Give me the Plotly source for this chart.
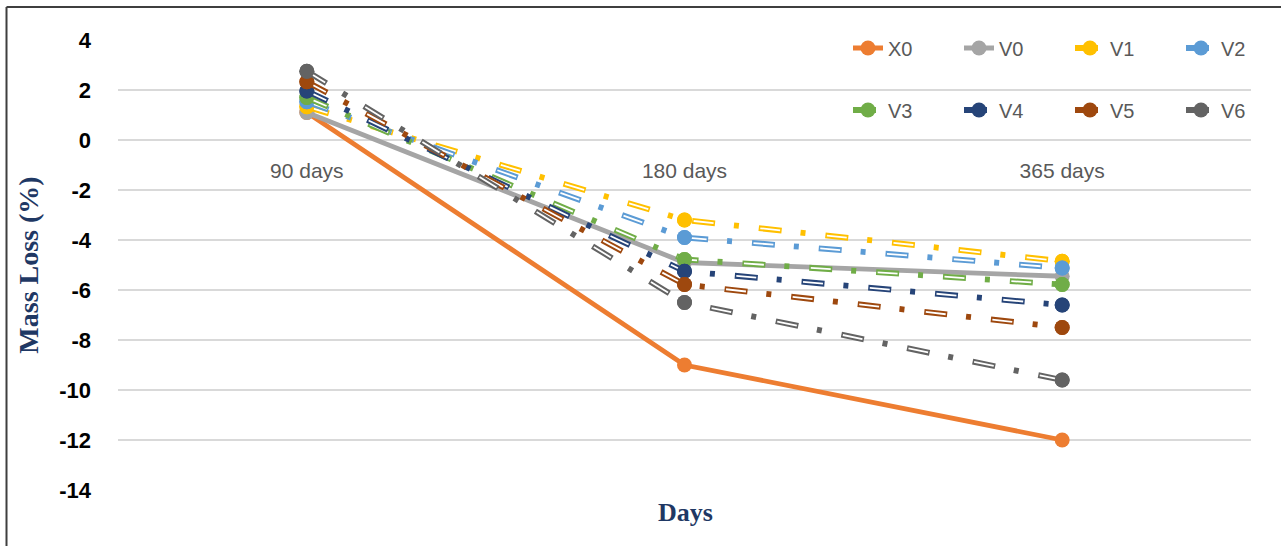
import plotly.graph_objects as go

# Sampling ages and mass-loss readings (%)
days = ["90 days", "180 days", "365 days"]
x0 = [1.1, -9.0, -12.0]
v0 = [1.1, -4.9, -5.45]
v1 = [1.33, -3.2, -4.85]
v2 = [1.53, -3.9, -5.12]
v3 = [1.7, -4.78, -5.78]
v4 = [1.96, -5.25, -6.6]
v5 = [2.33, -5.78, -7.5]
v6 = [2.75, -6.5, -9.6]

# y-axis ticks written with a plain hyphen minus
y_ticks = [4, 2, 0, -2, -4, -6, -8, -10, -12, -14]
y_tick_text = ["4", "2", "0", "-2", "-4", "-6", "-8", "-10", "-12", "-14"]

solid_series = [
    ("X0", x0, "#ED7D31"),
    ("V0", v0, "#A5A5A5"),
]
double_series = [
    ("V1", v1, "#FFC000", "legend"),
    ("V2", v2, "#5B9BD5", "legend"),
    ("V3", v3, "#70AD47", "legend2"),
    ("V4", v4, "#264478", "legend2"),
    ("V5", v5, "#9E480E", "legend2"),
    ("V6", v6, "#636363", "legend2"),
]

# long dash - dot pattern; the white core only runs inside the long dash
OUTER_DASH = "23px,19px,5px,20px"
INNER_DASH = "0px,1.5px,20px,45.5px"
MARKER_SIZE = 15

fig = go.Figure()

for name, vals, color in solid_series:
    fig.add_trace(go.Scatter(
        x=days, y=vals, name=name, mode="lines+markers",
        line=dict(color=color, width=4.8),
        marker=dict(color=color, size=MARKER_SIZE),
        legend="legend",
    ))

for name, vals, color, leg in double_series:
    # coloured outer stroke (also the legend entry)
    fig.add_trace(go.Scatter(
        x=days, y=vals, name=name, mode="lines+markers",
        line=dict(color=color, width=5.8, dash=OUTER_DASH),
        marker=dict(color=color, size=MARKER_SIZE),
        legend=leg,
    ))
    # white core making the compound (double) line
    fig.add_trace(go.Scatter(
        x=days, y=vals, mode="lines", showlegend=False, hoverinfo="skip",
        line=dict(color="white", width=1.8, dash=INNER_DASH),
    ))
    # markers redrawn over the white core
    fig.add_trace(go.Scatter(
        x=days, y=vals, mode="markers", showlegend=False, hoverinfo="skip",
        marker=dict(color=color, size=MARKER_SIZE),
    ))

L, R, T, B = 118, 30, 40, 56
W, H = 1281, 546
plot_w = W - L - R
plot_h = H - T - B
y_min, y_max = -14, 4

def px_x(p):
    return (p - L) / plot_w

def px_y(p):
    return (H - B - p) / plot_h

legend_style = dict(
    orientation="h", xanchor="left", yanchor="middle",
    bgcolor="rgba(0,0,0,0)",
    font=dict(family="Liberation Sans, Arial, sans-serif", size=20, color="#595959"),
    entrywidth=66, itemwidth=30, traceorder="normal",
)

fig.update_layout(
    width=W, height=H,
    margin=dict(l=L, r=R, t=T, b=B, autoexpand=False),
    plot_bgcolor="white", paper_bgcolor="white",
    showlegend=True,
    legend=dict(x=px_x(848), y=px_y(48), **legend_style),
    legend2=dict(x=px_x(848), y=px_y(110), **legend_style),
    xaxis=dict(
        type="category", range=[-0.5, 2.5],
        showgrid=False, showline=False, zeroline=False, ticks="",
        anchor="free", position=(0 - y_min) / (y_max - y_min),
        ticklabelstandoff=16,
        tickfont=dict(family="Liberation Sans, Arial, sans-serif", size=21, color="#595959"),
    ),
    yaxis=dict(
        range=[y_min, y_max], tickvals=y_ticks, ticktext=y_tick_text,
        showgrid=True, gridcolor="#D9D9D9", gridwidth=1.5,
        zeroline=False, showline=False, ticks="",
        ticklabelstandoff=26,
        tickfont=dict(family="Liberation Sans, Arial, sans-serif", size=22, color="#000000", weight="bold"),
        title=dict(
            text="<b>Mass Loss (%)</b>", standoff=12,
            font=dict(family="Liberation Serif, Times New Roman, serif", size=28, color="#1F3864"),
        ),
    ),
    annotations=[dict(
        text="<b>Days</b>", xref="paper", yref="paper",
        x=px_x(685), y=px_y(512), xanchor="center", yanchor="middle",
        showarrow=False,
        font=dict(family="Liberation Serif, Times New Roman, serif", size=26, color="#1F3864"),
    )],
    shapes=[
        dict(type="line", xref="paper", yref="paper",
             x0=px_x(6.5), x1=px_x(W + 5), y0=px_y(7), y1=px_y(7),
             line=dict(color="#3F3F3F", width=2)),
        dict(type="line", xref="paper", yref="paper",
             x0=px_x(6.5), x1=px_x(6.5), y0=px_y(7), y1=px_y(H + 5),
             line=dict(color="#3F3F3F", width=2)),
    ],
)

fig.write_html("out.html")
